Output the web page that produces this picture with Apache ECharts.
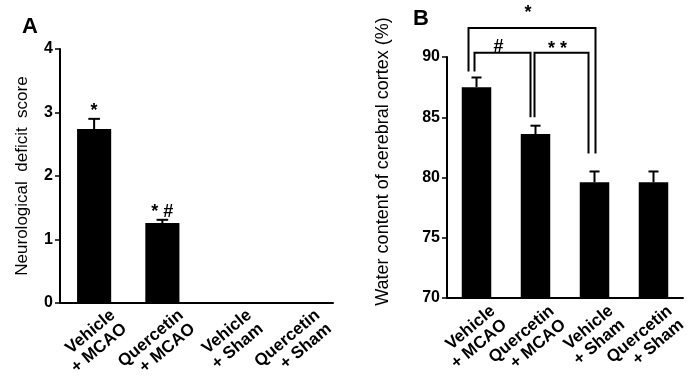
<!DOCTYPE html>
<html>
<head>
<meta charset="utf-8">
<script src="https://cdn.jsdelivr.net/npm/echarts@6/dist/echarts.min.js"></script>
<style>
  html, body { margin: 0; padding: 0; background: #fff; }
  #chart { width: 694px; height: 384px; }
</style>
</head>
<body>
<div id="chart"></div>
<script>
// 分组
const groups = ['Vehicle\n+ MCAO', 'Quercetin\n+ MCAO', 'Vehicle\n+ Sham', 'Quercetin\n+ Sham']

// A: 神经功能缺损评分
const scoreMean = [2.74, 1.26, 0, 0]
const scoreSd = [0.16, 0.05, 0, 0]
const scoreSig = ['*', '* #', '', '']
const scoreTicks = [0, 1, 2, 3, 4]

// B: 脑皮质含水量 (%)
const waterMean = [87.5, 83.6, 79.6, 79.6]
const waterSd = [0.8, 0.7, 0.9, 0.9]
const waterTicks = [70, 75, 80, 85, 90]

// 显著性括号: [起始组, 结束组, 横线高度, 左端, 右端, 标记]
const brackets = [
  [0, 2, 92.4, 88.8, 82.0, '*'],
  [0, 1, 90.35, 88.8, 85.0, '#'],
  [1, 2, 90.35, 85.0, 82.0, '* *']
]
// 括号端点与标记的像素微调 [左, 右, 标记上移]
const bracketShift = [[-8, 1, 6], [-2, -5, -3], [-1, -6, -5]]

const font = 'Liberation Sans, Arial, sans-serif'

const chart = echarts.init(document.getElementById('chart'))

const renderErr = (sig) => (params, api) => {
  const i = api.value(0)
  const mean = api.value(1)
  const sd = api.value(2)
  if (!mean) return
  const base = api.coord([i, mean])
  const top = api.coord([i, mean + sd])
  const half = api.size([1, 0])[0] * 0.085
  const children = [
    { type: 'line', shape: { x1: top[0], y1: base[1], x2: top[0], y2: top[1] }, style: { stroke: '#000', lineWidth: 2 } },
    { type: 'line', shape: { x1: top[0] - half, y1: top[1], x2: top[0] + half, y2: top[1] }, style: { stroke: '#000', lineWidth: 2 } }
  ]
  if (sig && sig[i]) {
    children.push({
      type: 'text',
      style: { x: top[0], y: top[1] + 1, text: sig[i], align: 'center', verticalAlign: 'bottom', font: 'bold 18px ' + font, fill: '#000' }
    })
  }
  return { type: 'group', children }
}

const renderBracket = (params, api) => {
  const b = brackets[params.dataIndex]
  const sh = bracketShift[params.dataIndex]
  const l = api.coord([b[0], b[2]])
  const r = api.coord([b[1], b[2]])
  const lEnd = api.coord([b[0], b[3]])
  const rEnd = api.coord([b[1], b[4]])
  const x1 = l[0] + sh[0]
  const x2 = r[0] + sh[1]
  return {
    type: 'group',
    children: [
      {
        type: 'polyline',
        shape: { points: [[x1, lEnd[1]], [x1, l[1]], [x2, l[1]], [x2, rEnd[1]]] },
        style: { stroke: '#000', lineWidth: 2, fill: null }
      },
      {
        type: 'text',
        style: { x: (x1 + x2) / 2 - 4, y: l[1] - sh[2], text: b[5], align: 'center', verticalAlign: 'bottom', font: 'bold 18px ' + font, fill: '#000' }
      }
    ]
  }
}

const xLabel = {
  interval: 0,
  rotate: 40,
  verticalAlign: 'top',
  color: '#000',
  fontSize: 17,
  fontWeight: 'bold',
  lineHeight: 18,
  fontFamily: font
}

const xAxisBase = {
  type: 'category',
  data: groups,
  axisLine: { lineStyle: { color: '#000', width: 2 } },
  axisTick: { show: false }
}

const yAxisBase = {
  type: 'value',
  axisLine: { show: true, lineStyle: { color: '#000', width: 2 } },
  axisTick: { show: true, inside: false, length: 5, lineStyle: { color: '#000', width: 1.5 } },
  splitLine: { show: false },
  axisLabel: { color: '#000', fontSize: 16, fontWeight: 'bold', fontFamily: font, margin: 7 },
  nameLocation: 'middle',
  nameTextStyle: { color: '#000', fontSize: 17, fontFamily: font }
}

const option = {
  backgroundColor: '#fff',
  animation: false,
  title: [
    { text: 'A', left: 17, top: 11, textStyle: { fontSize: 22, fontWeight: 'bold', color: '#000', fontFamily: font } },
    { text: 'B', left: 408, top: 3, textStyle: { fontSize: 22, fontWeight: 'bold', color: '#000', fontFamily: font } }
  ],
  grid: [
    { left: 60, right: 361, top: 49, bottom: 81, outerBoundsMode: 'none' },
    { left: 447, right: 11, top: 57, bottom: 86, outerBoundsMode: 'none' }
  ],
  xAxis: [
    { ...xAxisBase, gridIndex: 0, axisLabel: { ...xLabel, margin: 14, padding: [0, -17, 0, 0] } },
    { ...xAxisBase, gridIndex: 1, axisLabel: { ...xLabel, margin: 13, padding: [0, -14, 0, 0] } }
  ],
  yAxis: [
    {
      ...yAxisBase,
      gridIndex: 0,
      min: scoreTicks[0],
      max: scoreTicks[scoreTicks.length - 1],
      interval: 1,
      name: 'Neurological  deficit  score',
      nameGap: 29
    },
    {
      ...yAxisBase,
      gridIndex: 1,
      min: waterTicks[0],
      max: waterTicks[waterTicks.length - 1],
      interval: 5,
      name: 'Water content of cerebral cortex (%)',
      nameGap: 55,
      nameTextStyle: { ...yAxisBase.nameTextStyle, fontSize: 18, padding: [0, 0, 0, 32] }
    }
  ],
  series: [
    {
      type: 'bar',
      xAxisIndex: 0,
      yAxisIndex: 0,
      data: scoreMean,
      barWidth: '50%',
      itemStyle: { color: '#000' }
    },
    {
      type: 'custom',
      xAxisIndex: 0,
      yAxisIndex: 0,
      renderItem: renderErr(scoreSig),
      data: scoreMean.map((v, i) => [i, v, scoreSd[i]]),
      z: 3
    },
    {
      type: 'bar',
      xAxisIndex: 1,
      yAxisIndex: 1,
      data: waterMean,
      barWidth: '50%',
      itemStyle: { color: '#000' }
    },
    {
      type: 'custom',
      xAxisIndex: 1,
      yAxisIndex: 1,
      renderItem: renderErr(null),
      data: waterMean.map((v, i) => [i, v, waterSd[i]]),
      z: 3
    },
    {
      type: 'custom',
      xAxisIndex: 1,
      yAxisIndex: 1,
      renderItem: renderBracket,
      data: brackets.map((b) => [b[0], b[2]]),
      clip: false,
      z: 4
    }
  ]
}

chart.setOption(option)
window.addEventListener('resize', () => chart.resize())
</script>
</body>
</html>
